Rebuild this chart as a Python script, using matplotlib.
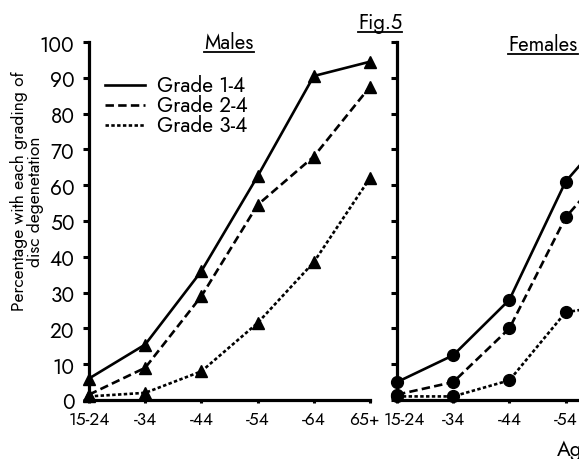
import matplotlib
matplotlib.use('Agg')
import matplotlib.pyplot as plt
from matplotlib.lines import Line2D
from matplotlib.transforms import ScaledTranslation

# ---- data ----
age_groups = ['15-24', '-34', '-44', '-54', '-64', '65+']
male_grade_1_4 = [6, 15.5, 36, 62.5, 90.5, 94.5]
male_grade_2_4 = [1.5, 9, 29, 54.5, 68, 87.5]
male_grade_3_4 = [1, 2, 8, 21.5, 38.5, 62]
female_grade_1_4 = [5, 12.5, 28, 61, 79, 88]
female_grade_2_4 = [1.5, 5, 20, 51, 69, 80]
female_grade_3_4 = [1, 1, 5.5, 24.5, 27, 45]
series_labels = ['Grade 1-4', 'Grade 2-4', 'Grade 3-4']
yticks = list(range(0, 101, 10))

plt.rcParams['font.family'] = ['Jost', 'DejaVu Sans']
plt.rcParams['font.weight'] = 600

W, H = 579, 460
fig = plt.figure(figsize=(W / 100, H / 100), dpi=100)

def fx(px):
    return px / W

def fy(py):
    return 1 - py / H

bottom = fy(401)
height = fy(43) - bottom
width = fx(370) - fx(89)

axL = fig.add_axes([fx(89), bottom, width, height])
axR = fig.add_axes([fx(397), bottom, width, height])

styles = [
    dict(linestyle='-'),
    dict(linestyle=(0, (3.2, 1.6))),
    dict(linestyle=(0, (1.3, 0.9))),
]
lw = 1.9
x = list(range(len(age_groups)))

male = [male_grade_1_4, male_grade_2_4, male_grade_3_4]
female = [female_grade_1_4, female_grade_2_4, female_grade_3_4]

for ax, data, marker, ms in [(axL, male, '^', 8), (axR, female, 'o', 8.5)]:
    for vals, st, lab in zip(data, styles, series_labels):
        ax.plot(x, vals, color='black', lw=lw, marker=marker, ms=ms,
                clip_on=False, label=lab, **st)
    ax.set_xlim(0, len(age_groups) - 1)
    ax.set_ylim(0, 100)
    for s in ['top', 'right']:
        ax.spines[s].set_visible(False)
    for s in ['left', 'bottom']:
        ax.spines[s].set_linewidth(2.3)
    ax.set_xticks(x)
    ax.set_xticklabels(age_groups, fontsize=12.5)
    ax.set_yticks(yticks)
    ax.tick_params(axis='y', direction='out', length=4.5, width=2.2, pad=6)
    ax.tick_params(axis='x', direction='out', length=2.5, width=2.2, pad=5.5)
    ax.patch.set_alpha(0)

axL.set_yticklabels([str(v) for v in yticks], fontsize=15)
axR.set_yticklabels([])

# nudge the two neighbouring labels apart, as in the reference
lastL = axL.get_xticklabels()[-1]
lastL.set_transform(lastL.get_transform() + ScaledTranslation(-6 / 100, 0, fig.dpi_scale_trans))
firstR = axR.get_xticklabels()[0]
firstR.set_transform(firstR.get_transform() + ScaledTranslation(7 / 100, 0, fig.dpi_scale_trans))

# legend drawn as lines + texts (no markers, as in the reference)
leg_rows = [86, 106, 126]
for row, st, lab in zip(leg_rows, styles, series_labels):
    fig.add_artist(Line2D([fx(105), fx(145)], [fy(row), fy(row)],
                          transform=fig.transFigure, color='black', lw=lw, **st))
    fig.text(fx(157), fy(row), lab, ha='left', va='center', fontsize=15)

fig.text(fx(19), fy(191), 'Percentage with each grading of', rotation=90,
         ha='center', va='center', fontsize=12.5)
fig.text(fx(35), fy(202), 'disc degenetation', rotation=90,
         ha='center', va='center', fontsize=12.5)

titles = [
    fig.text(fx(229), fy(43), 'Males', ha='center', va='center', fontsize=14.5),
    fig.text(fx(543), fy(45), 'Females', ha='center', va='center', fontsize=14.5),
    fig.text(fx(380), fy(23), 'Fig.5', ha='center', va='center', fontsize=14.5),
]
fig.text(fx(557), fy(450), 'Age', ha='left', va='center', fontsize=15)

fig.canvas.draw()
renderer = fig.canvas.get_renderer()
for t in titles:
    bb = t.get_window_extent(renderer)
    ybar = bb.y0 + 1
    fig.add_artist(Line2D([bb.x0 / W, bb.x1 / W], [ybar / H, ybar / H],
                          transform=fig.transFigure, color='black', lw=1.3))

fig.savefig('out.png', dpi=100)
